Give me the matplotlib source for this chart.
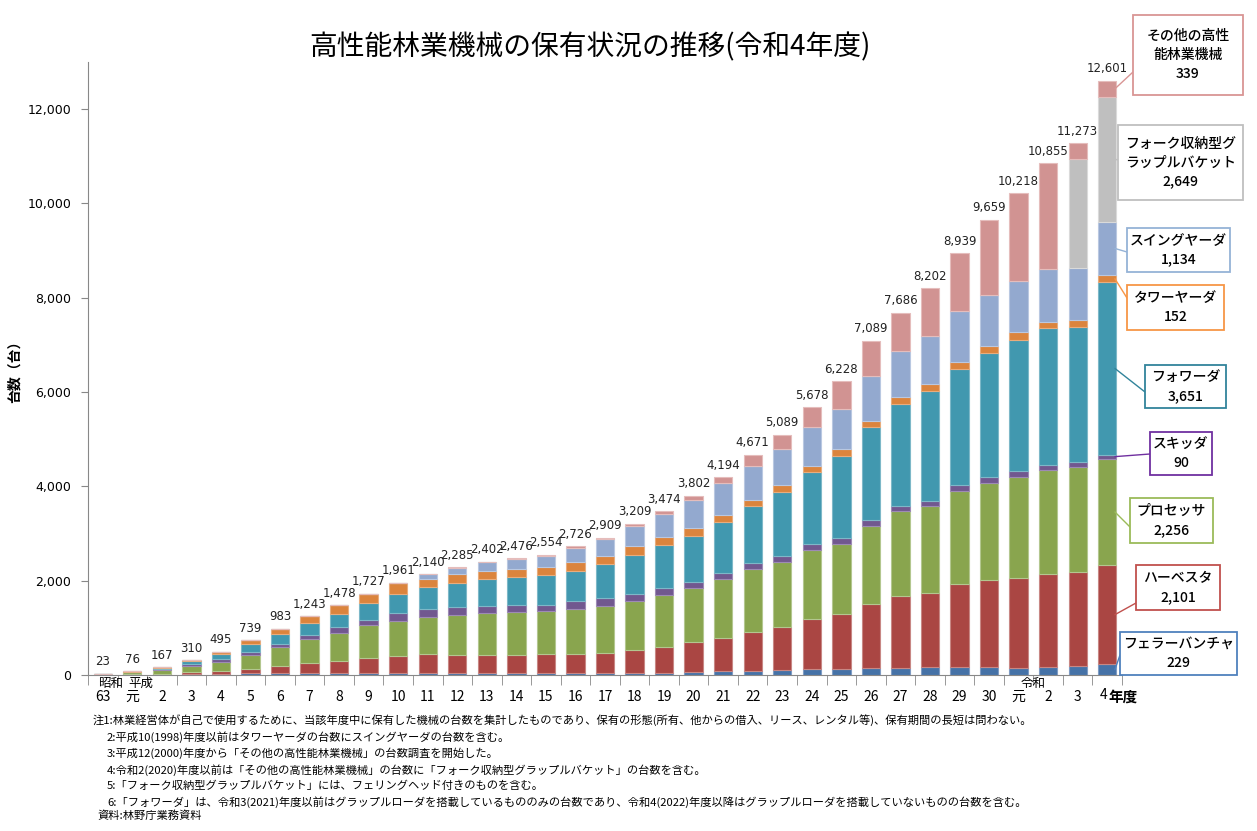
import matplotlib
matplotlib.use("Agg")
import matplotlib.pyplot as plt
from matplotlib.patches import Rectangle
import numpy as np

plt.rcParams['font.family'] = ['Noto Sans CJK JP', 'DejaVu Sans']

# ---------------- data ----------------
years = ["63", "元", "2", "3", "4", "5", "6", "7", "8", "9", "10",
         "11", "12", "13", "14", "15", "16", "17", "18", "19", "20",
         "21", "22", "23", "24", "25", "26", "27", "28", "29", "30",
         "元", "2", "3", "4"]

totals = [23, 76, 167, 310, 495, 739, 983, 1243, 1478, 1727, 1961,
          2140, 2285, 2402, 2476, 2554, 2726, 2909, 3209, 3474, 3802,
          4194, 4671, 5089, 5678, 6228, 7089, 7686, 8202, 8939, 9659,
          10218, 10855, 11273, 12601]

feller = [2, 5, 8, 20, 28, 35, 40, 42, 42, 49, 49,
          49, 35, 35, 35, 35, 35, 35, 35, 49, 71,
          78, 85, 106, 120, 127, 148, 148, 163, 170, 163,
          140, 160, 190, 229]
harvester = [3, 8, 22, 51, 64, 99, 151, 205, 262, 318, 354,
             389, 389, 396, 396, 403, 417, 431, 495, 552, 621,
             713, 827, 912, 1067, 1173, 1350, 1520, 1568, 1752, 1851,
             1915, 1985, 1995, 2101]
processor = [14, 50, 75, 120, 184, 290, 395, 509, 593, 686, 742,
             792, 848, 876, 898, 919, 954, 997, 1046, 1088, 1145,
             1237, 1328, 1370, 1456, 1477, 1668, 1802, 1845, 1986, 2063,
             2150, 2210, 2230, 2256]
skidder = [2, 5, 17, 42, 70, 64, 78, 99, 113, 113, 176,
           162, 170, 156, 155, 134, 163, 162, 148, 162, 135,
           134, 127, 135, 141, 134, 120, 120, 106, 120, 113,
           130, 95, 105, 90]
forwarder = [2, 6, 35, 57, 99, 162, 205, 240, 290, 353, 389,
             467, 501, 565, 586, 622, 643, 721, 827, 905, 982,
             1089, 1209, 1357, 1512, 1739, 1964, 2162, 2339, 2466, 2644,
             2775, 2905, 2865, 3651]
tower_yarder = [0, 2, 10, 20, 50, 89, 114, 148, 178, 208, 251,
                183, 191, 184, 177, 177, 190, 177, 184, 163, 169,
                141, 141, 148, 142, 141, 142, 142, 148, 149, 148,
                155, 140, 135, 152]
swing_yarder = [0, 0, 0, 0, 0, 0, 0, 0, 0, 0, 0,
                98, 142, 184, 205, 240, 283, 367, 431, 487, 580,
                671, 721, 756, 812, 848, 954, 975, 1018, 1067, 1074,
                1085, 1110, 1120, 1134]
fork_bucket = [0] * 33 + [2300, 2649]
others = [0, 0, 0, 0, 0, 0, 0, 0, 0, 0, 0,
          0, 9, 6, 24, 24, 41, 19, 43, 68, 99,
          131, 233, 305, 428, 589, 743, 817, 1015, 1229, 1603,
          1868, 2250, 333, 339]

series_names = ["フェラーバンチャ", "ハーベスタ", "プロセッサ", "スキッダ", "フォワーダ",
                "タワーヤーダ", "スイングヤーダ", "フォーク収納型グラップルバケット",
                "その他の高性能林業機械"]
series = [feller, harvester, processor, skidder, forwarder,
          tower_yarder, swing_yarder, fork_bucket, others]
colors = ["#4572A7", "#AA4643", "#89A54E", "#71588F", "#4198AF",
          "#DB843D", "#93A9CF", "#BFBFBF", "#D19392"]
edge_colors = ["#7F9CC4", "#C88784", "#B3C78F", "#9D8AB5", "#7DB8C8",
               "#E9AC7C", "#B9C8E1", "#DADADA", "#E5BDBC"]

# callout labels (last year)
callout_text = ["フェラーバンチャ\n229", "ハーベスタ\n2,101", "プロセッサ\n2,256", "スキッダ\n90",
                "フォワーダ\n3,651", "タワーヤーダ\n152", "スイングヤーダ\n1,134",
                "フォーク収納型グ\nラップルバケット\n2,649", "その他の高性\n能林業機械\n339"]
callout_edge = ["#4F81BD", "#C0504D", "#9BBB59", "#7030A0", "#31849B",
                "#F79646", "#95B3D7", "#BFBFBF", "#D99594"]
# box (left, top, width, height) in picture pixels, and y where leader meets box
callout_box = [(1120, 632, 117, 43), (1136, 565, 84, 45), (1130, 498, 83, 45),
               (1150, 432, 62, 43), (1145, 365, 81, 43), (1127, 285, 97, 45),
               (1127, 228, 103, 44), (1118, 125, 125, 75), (1133, 15, 110, 80)]
callout_hit = [655, 603, 527, 454, 392, 298, 252, 160, 72]

notes = [
    "注1:林業経営体が自己で使用するために、当該年度中に保有した機械の台数を集計したものであり、保有の形態(所有、他からの借入、リース、レンタル等)、保有期間の長短は問わない。",
    "2:平成10(1998)年度以前はタワーヤーダの台数にスイングヤーダの台数を含む。",
    "3:平成12(2000)年度から「その他の高性能林業機械」の台数調査を開始した。",
    "4:令和2(2020)年度以前は「その他の高性能林業機械」の台数に「フォーク収納型グラップルバケット」の台数を含む。",
    "5:「フォーク収納型グラップルバケット」には、フェリングヘッド付きのものを含む。",
    "6:「フォワーダ」は、令和3(2021)年度以前はグラップルローダを搭載しているもののみの台数であり、令和4(2022)年度以降はグラップルローダを搭載していないものの台数を含む。",
]
source = "資料:林野庁業務資料"
title = "高性能林業機械の保有状況の推移(令和4年度)"

# ---------------- figure ----------------
W, H = 1257, 831
fig = plt.figure(figsize=(W / 100, H / 100), dpi=100)
ax = fig.add_axes([88 / W, 1 - 675 / H, (1122 - 88) / W, (675 - 62) / H])

x = np.arange(len(years))
bottom = np.zeros(len(years))
bar_w = 0.62
for vals, c, ec in zip(series, colors, edge_colors):
    v = np.array(vals, dtype=float)
    ax.bar(x, v, bar_w, bottom=bottom, color=c, edgecolor=ec, linewidth=0.8)
    bottom += v

for xi, t in zip(x, totals):
    ax.annotate(f"{t:,}", (xi, t), xytext=(0, 4), textcoords="offset points",
                ha="center", va="bottom", fontsize=8.5, color="#222222",
                family=["DejaVu Sans"])

ax.set_xlim(-0.5, len(years) - 0.5)
ax.set_ylim(0, 13000)
ax.set_yticks(np.arange(0, 12001, 2000))
ax.set_yticklabels([f"{v:,}" for v in range(0, 12001, 2000)], fontsize=9,
                   family=["DejaVu Sans"])
ax.tick_params(axis="y", length=5, color="#888888", pad=7)

ax.set_xticks(x)
labels = years[:-1] + [""]
ax.set_xticklabels(labels, fontsize=10)
ax.tick_params(axis="x", which="major", length=0, pad=11)
ax.set_xticks(np.arange(-0.5, len(years), 1), minor=True)
ax.tick_params(axis="x", which="minor", length=7, color="#888888")
ax.text(len(years) - 1 - 0.25, -0.022, "4", transform=ax.get_xaxis_transform(),
        ha="left", va="top", fontsize=10)
ax.text(len(years) - 1 + 0.05, -0.022, "年度", transform=ax.get_xaxis_transform(),
        ha="left", va="top", fontsize=10.5, fontweight="bold")
ax.text(0.25, -0.003, "昭和", transform=ax.get_xaxis_transform(),
        ha="center", va="top", fontsize=9)
ax.text(1.3, -0.003, "平成", transform=ax.get_xaxis_transform(),
        ha="center", va="top", fontsize=9)
ax.text(31.5, -0.003, "令和", transform=ax.get_xaxis_transform(),
        ha="center", va="top", fontsize=9)

for s in ["top", "right"]:
    ax.spines[s].set_visible(False)
ax.spines["left"].set_color("#888888")
ax.spines["bottom"].set_color("#888888")

ax.set_ylabel("台数（台）", fontsize=10, fontweight="bold")
ax.yaxis.set_label_coords((22 - 88) / (1122 - 88), 0.5)

fig.text(590 / W, 1 - 47 / H, title, ha="center", va="center", fontsize=20)

# callouts for last bar
last = len(years) - 1
cum = 0
for i, vals in enumerate(series):
    v = vals[last]
    mid = cum + v / 2
    cum += v
    bl, bt, bw, bh = callout_box[i]
    fig.add_artist(Rectangle((bl / W, 1 - (bt + bh) / H), bw / W, bh / H,
                             transform=fig.transFigure, fc="white",
                             ec=callout_edge[i], lw=1.3, zorder=5))
    fig.text((bl + bw / 2) / W, 1 - (bt + bh / 2) / H, callout_text[i],
             ha="center", va="center", fontsize=10, linespacing=1.45,
             fontweight="medium", zorder=6)
    ax.annotate("", xy=(last + bar_w / 2 - 0.05, mid), xycoords="data",
                xytext=(bl, H - callout_hit[i]), textcoords="figure pixels",
                arrowprops=dict(arrowstyle="-", color=callout_edge[i], lw=1.0,
                                shrinkA=0, shrinkB=0),
                annotation_clip=False)

# notes
note_y = [720, 737, 753, 770, 786, 802]
for j, (t, yy) in enumerate(zip(notes, note_y)):
    xx = 93 if j == 0 else 107
    fig.text(xx / W, 1 - yy / H, t, ha="left", va="center", fontsize=8.1)
fig.text(97 / W, 1 - 816 / H, source, ha="left", va="center", fontsize=8.1)

fig.savefig("out.png", dpi=100)
